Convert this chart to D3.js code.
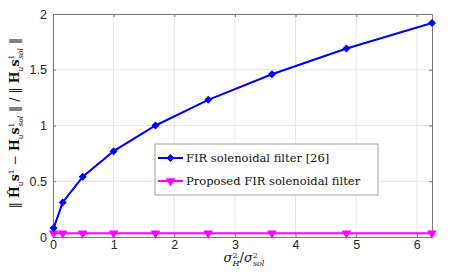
<!DOCTYPE html>
<html>
<head>
<meta charset="utf-8">
<script src="https://cdn.jsdelivr.net/npm/d3@7"></script>
<style>
  body { margin: 0; background: #fff; }
  text { font-family: "Liberation Sans", Arial, sans-serif; }
</style>
</head>
<body>
<div id="chart"></div>
<script>
// data
const ratio = [0.01, 0.16, 0.49, 1, 1.69, 2.56, 3.61, 4.84, 6.25];
const firErr = [0.08, 0.31, 0.54, 0.77, 1.0, 1.23, 1.46, 1.69, 1.92];
const proposedErr = [0.033, 0.033, 0.033, 0.033, 0.033, 0.033, 0.033, 0.033, 0.033];
const seriesNames = ["FIR solenoidal filter [26]", "Proposed FIR solenoidal filter"];
const xTicks = [0, 1, 2, 3, 4, 5, 6];
const yTicks = [0, 0.5, 1, 1.5, 2];

/* svg setup */
const width = 464, height = 273;
const margin = { top: 14, right: 32, bottom: 36, left: 53 };
const w = width - margin.left - margin.right;
const h = height - margin.top - margin.bottom;

const svg = d3.select("#chart").append("svg")
  .attr("width", width)
  .attr("height", height);

const g = svg.append("g")
  .attr("transform", `translate(${margin.left},${margin.top})`);

const x = d3.scaleLinear().domain([0, 6.25]).range([0, w]);
const y = d3.scaleLinear().domain([0, 2]).range([h, 0]);
const fmt = d3.format("~g");

// grid
g.append("g").selectAll("line").data(xTicks).join("line")
  .attr("x1", d => x(d)).attr("x2", d => x(d))
  .attr("y1", 0).attr("y2", h)
  .attr("stroke", "#e6e6e6").attr("stroke-width", 1);
g.append("g").selectAll("line").data(yTicks).join("line")
  .attr("x1", 0).attr("x2", w)
  .attr("y1", d => y(d)).attr("y2", d => y(d))
  .attr("stroke", "#e6e6e6").attr("stroke-width", 1);

// axes (box with inward ticks)
const axisColor = "#7a7a7a";
const styleAxis = sel => {
  sel.selectAll(".domain").attr("stroke", axisColor);
  sel.selectAll(".tick line").attr("stroke", axisColor);
  sel.selectAll(".tick text").attr("fill", "#262626").style("font-size", "12.5px");
};
g.append("g").attr("transform", `translate(0,${h})`)
  .call(d3.axisBottom(x).tickValues(xTicks).tickFormat(fmt).tickSize(-3).tickPadding(3).tickSizeOuter(0))
  .call(styleAxis);
g.append("g")
  .call(d3.axisLeft(y).tickValues(yTicks).tickFormat(fmt).tickSize(-3).tickPadding(6).tickSizeOuter(0))
  .call(styleAxis);
g.append("g")
  .call(d3.axisTop(x).tickValues(xTicks).tickSize(-3).tickFormat("").tickSizeOuter(0))
  .call(styleAxis);
g.append("g").attr("transform", `translate(${w},0)`)
  .call(d3.axisRight(y).tickValues(yTicks).tickSize(-3).tickFormat("").tickSizeOuter(0))
  .call(styleAxis);

// lines
const line = d3.line().x(d => x(d[0])).y(d => y(d[1]));
const blueData = ratio.map((r, i) => [r, firErr[i]]);
const pinkData = ratio.map((r, i) => [r, proposedErr[i]]);

const diamond = d3.symbol().type(d3.symbolSquare).size(20);
const triDown = d3.symbol().type(d3.symbolTriangle).size(40);

g.append("path").datum(pinkData)
  .attr("d", line).attr("fill", "none")
  .attr("stroke", "#ff00ff").attr("stroke-width", 2);
g.append("g").selectAll("path").data(pinkData).join("path")
  .attr("d", triDown)
  .attr("transform", d => `translate(${x(d[0])},${y(d[1])}) rotate(180)`)
  .attr("fill", "#ff00ff");

g.append("path").datum(blueData)
  .attr("d", line).attr("fill", "none")
  .attr("stroke", "#0000ff").attr("stroke-width", 2);
g.append("g").selectAll("path").data(blueData).join("path")
  .attr("d", diamond)
  .attr("transform", d => `translate(${x(d[0])},${y(d[1])}) rotate(45)`)
  .attr("fill", "#0000ff").attr("stroke", "#0000ff").attr("stroke-width", 1.2);

// legend
const lg = svg.append("g").attr("transform", "translate(155,144)");
lg.append("rect").attr("width", 223).attr("height", 51)
  .attr("fill", "#fff").attr("stroke", "#a0a0a0").attr("stroke-width", 1);
const items = [
  { name: seriesNames[0], color: "#0000ff", sym: diamond, rot: 45, sw: 1.2 },
  { name: seriesNames[1], color: "#ff00ff", sym: triDown, rot: 180, sw: 0 }
];
items.forEach((it, i) => {
  const yy = 14 + i * 23;
  lg.append("line").attr("x1", 3).attr("x2", 28).attr("y1", yy).attr("y2", yy)
    .attr("stroke", it.color).attr("stroke-width", 2);
  lg.append("path").attr("d", it.sym)
    .attr("transform", `translate(15.5,${yy}) rotate(${it.rot})`)
    .attr("fill", it.color).attr("stroke", it.color).attr("stroke-width", it.sw);
  lg.append("text").attr("x", 31).attr("y", yy + 4)
    .style("font-family", "'DejaVu Serif', serif").style("font-size", "11.5px")
    .attr("fill", "#111").text(it.name);
});

// x label: sigma_H^2 / sigma_sol^2
const xl = svg.append("text").attr("x", 244).attr("y", 262)
  .attr("text-anchor", "middle")
  .style("font-family", "'DejaVu Serif', serif").style("font-size", "13px").attr("fill", "#111");
xl.append("tspan").style("font-style", "italic").text("σ");
xl.append("tspan").attr("dy", -4).style("font-size", "8px").text("2");
xl.append("tspan").attr("dx", -5).attr("dy", 8).style("font-size", "8px").style("font-style", "italic").text("H");
xl.append("tspan").attr("dy", -4).text("/");
xl.append("tspan").style("font-style", "italic").text("σ");
xl.append("tspan").attr("dy", -4).style("font-size", "8px").text("2");
xl.append("tspan").attr("dx", -5).attr("dy", 8).style("font-size", "8px").style("font-style", "italic").text("sol");

// y label
const yl = svg.append("text")
  .attr("transform", "translate(19,123) rotate(-90)")
  .attr("text-anchor", "middle")
  .style("font-family", "'DejaVu Serif', serif").style("font-size", "12.5px").attr("fill", "#111");
const sub = (t, italic) => yl.append("tspan").attr("dy", 4).style("font-size", "7.5px")
  .style("font-style", italic ? "italic" : "normal").text(t);
yl.append("tspan").text("‖ ");
yl.append("tspan").style("font-weight", "bold").text("Ĥ");
sub("u", true);
yl.append("tspan").attr("dy", -4).style("font-weight", "bold").text("s");
yl.append("tspan").attr("dy", -5).style("font-size", "7.5px").text("1");
yl.append("tspan").attr("dy", 5).text(" − ");
yl.append("tspan").style("font-weight", "bold").text("H");
sub("u", true);
yl.append("tspan").attr("dy", -4).style("font-weight", "bold").text("s");
yl.append("tspan").attr("dy", -5).style("font-size", "7.5px").text("1");
yl.append("tspan").attr("dx", -4).attr("dy", 9).style("font-size", "7.5px").style("font-style", "italic").text("sol");
yl.append("tspan").attr("dy", -4).text(" ‖ / ‖ ");
yl.append("tspan").style("font-weight", "bold").text("H");
sub("u", true);
yl.append("tspan").attr("dy", -4).style("font-weight", "bold").text("s");
yl.append("tspan").attr("dy", -5).style("font-size", "7.5px").text("1");
yl.append("tspan").attr("dx", -4).attr("dy", 9).style("font-size", "7.5px").style("font-style", "italic").text("sol");
yl.append("tspan").attr("dy", -4).text(" ‖");
</script>
</body>
</html>
